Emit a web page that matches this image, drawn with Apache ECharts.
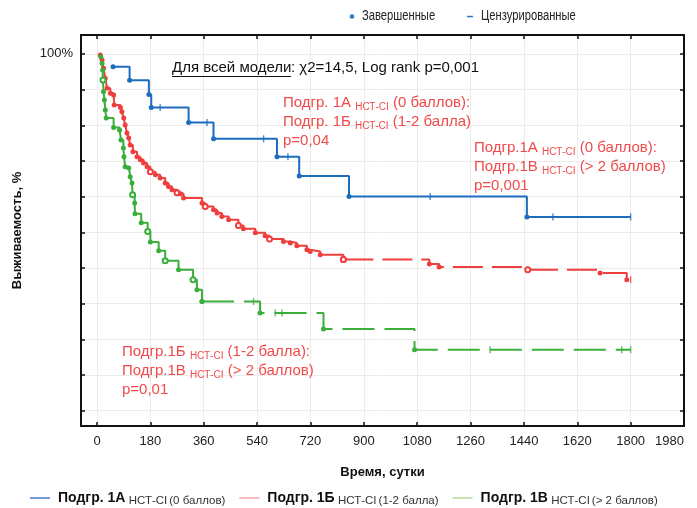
<!DOCTYPE html>
<html><head><meta charset="utf-8">
<script src="https://cdn.jsdelivr.net/npm/echarts@6/dist/echarts.min.js"></script>
<style>html,body{margin:0;padding:0;background:#fff}#c{width:697px;height:508px}</style>
</head><body><div id="c"></div>
<script>
// ---------- data ----------
const groupNames = ['Подгр. 1А', 'Подгр. 1Б', 'Подгр. 1В'];
const markerLegend = ['Завершенные', 'Цензурированные'];
const xTicks = [0, 180, 360, 540, 720, 900, 1080, 1260, 1440, 1620, 1800, 1980];
const yTicks = [0, 10, 20, 30, 40, 50, 60, 70, 80, 90, 100];
const yLabelTicks = [100];
const followUpEnd = 1800;

// Group 1A (blue): event times (days) and survival after event (%)
const blueT = [54, 110, 175, 183, 309, 393, 607, 682, 850, 1450];
const blueS = [96.4, 92.6, 88.6, 85.0, 80.8, 76.2, 71.2, 65.8, 60.0, 54.3];
const blueHollowT = [];
const blueCensT = [213, 371, 562, 644, 1124, 1538, 1800];

// Group 1B (red)
const redT = [11, 17, 22, 28, 34, 45, 56, 58, 79, 84, 90, 95, 101, 107, 112, 121, 135, 146, 157, 169, 180, 197, 213, 230, 241, 253, 270, 281, 292, 354, 365, 393, 405, 421, 444, 477, 494, 534, 567, 582, 629, 652, 674, 708, 719, 753, 831, 1121, 1154, 1453, 1697, 1787];
const redS = [99.7, 98.3, 96.0, 93.2, 90.4, 89.0, 88.5, 85.7, 85.0, 83.8, 82.0, 80.1, 77.8, 76.4, 74.5, 72.6, 71.2, 70.3, 69.4, 68.4, 67.0, 66.1, 65.2, 63.8, 62.8, 61.9, 61.1, 60.8, 59.6, 58.2, 57.2, 56.3, 55.4, 54.4, 53.5, 51.9, 51.0, 49.9, 49.0, 48.1, 47.4, 47.0, 46.2, 45.1, 44.6, 43.7, 42.4, 41.1, 40.3, 39.5, 38.6, 36.7];
const redHollowT = [180, 270, 365, 477, 582, 831, 1453];
const redCensT = [1800];
const redDashFromT = 831;

// Group 1V (green)
const greenT = [13, 17, 19, 20, 22, 25, 28, 31, 56, 76, 81, 89, 91, 95, 107, 112, 118, 120, 127, 128, 149, 171, 180, 208, 230, 275, 324, 337, 354, 550, 764, 1071];
const greenS = [99.2, 97.4, 95.5, 92.7, 89.4, 87.1, 84.3, 82.0, 79.4, 78.7, 75.9, 73.6, 71.2, 68.4, 68.0, 65.6, 63.8, 60.5, 58.2, 55.2, 52.7, 50.2, 47.3, 44.8, 42.0, 39.5, 36.7, 33.9, 30.6, 27.4, 22.9, 17.1];
const greenHollowT = [20, 120, 171, 230, 324];
const greenCensT = [528, 601, 624, 1326, 1770, 1800];
const greenDashFromT = 354;

// ---------- helpers ----------
const COL = { blue: '#1c6cbf', red: '#ef3e3e', green: '#3aae3a' };
const LEG = { blue: '#6f9bd6', red: '#f6bcc4', green: '#c9e3b4' };
const TXT_RED = '#f04a4a';
const FONT = '"Liberation Sans", Arial, sans-serif';

function survAt(T, S, t) { let s = 100; for (let i = 0; i < T.length; i++) { if (T[i] <= t) s = S[i]; } return s; }
function makeLine(T, S, hollow, i0, i1, endT) {
  const d = [];
  for (let i = i0; i <= i1; i++) {
    d.push({ value: [T[i], S[i]], symbol: hollow.indexOf(T[i]) >= 0 ? 'emptyCircle' : 'circle' });
  }
  if (endT != null) d.push({ value: [endT, S[i1]], symbol: 'none' });
  return d;
}
function cens(T, S, CT) { return CT.map(t => [t, survAt(T, S, t)]); }

function lineSeries(name, color, data, dash) {
  return {
    type: 'line', name: name, step: 'end', data: data,
    symbolSize: 5, showSymbol: true, showAllSymbol: true,
    lineStyle: { color: color, width: 2, type: dash || 'solid' },
    itemStyle: { color: color, borderWidth: 1.2 },
    emphasis: { disabled: true }, z: 3, clip: false
  };
}
function censSeries(name, color, data) {
  return {
    type: 'scatter', name: name, data: data, symbol: 'rect', symbolSize: [1.4, 7],
    itemStyle: { color: color }, emphasis: { disabled: true }, z: 4
  };
}

const rI = redT.indexOf(redDashFromT);
const gI = greenT.indexOf(greenDashFromT);

const series = [
  lineSeries(groupNames[0], COL.blue, makeLine(blueT, blueS, blueHollowT, 0, blueT.length - 1, followUpEnd)),
  censSeries(groupNames[0], COL.blue, cens(blueT, blueS, blueCensT)),
  lineSeries(groupNames[1], COL.red, makeLine(redT, redS, redHollowT, 0, rI, null)),
  lineSeries(groupNames[1], COL.red, makeLine(redT, redS, redHollowT, rI, redT.length - 1, followUpEnd), [30, 9]),
  censSeries(groupNames[1], COL.red, cens(redT, redS, redCensT)),
  lineSeries(groupNames[2], COL.green, makeLine(greenT, greenS, greenHollowT, 0, gI, null)),
  lineSeries(groupNames[2], COL.green, makeLine(greenT, greenS, greenHollowT, gI, greenT.length - 1, followUpEnd), [32, 10]),
  censSeries(groupNames[2], COL.green, cens(greenT, greenS, greenCensT))
];

const subRich = {
  b: { fontFamily: FONT, fontSize: 14, fontWeight: 'bold', color: '#111', lineHeight: 18, padding: [0, 0, 0, 3] },
  s: { fontFamily: FONT, fontSize: 11.5, color: '#333', verticalAlign: 'bottom', lineHeight: 11, padding: [0, 2, 0, 0] },
  t: { fontFamily: FONT, fontSize: 11.5, color: '#333', verticalAlign: 'bottom', lineHeight: 15 }
};
const legendSub = ['(0 баллов)', '(1-2 балла)', '(> 2 баллов)'];

function annRich(color) {
  return {
    a: { fontFamily: FONT, fontSize: 15, fill: color, color: color, lineHeight: 19 },
    s: { fontFamily: FONT, fontSize: 10, fill: color, color: color, verticalAlign: 'bottom', lineHeight: 16 }
  };
}
function annText(x, y, lines) {
  return {
    type: 'text', left: x, top: y, z: 10,
    style: { text: lines.join('\n'), rich: annRich(TXT_RED), fill: TXT_RED, font: '15px ' + FONT }
  };
}

const mctx = document.createElement('canvas').getContext('2d');
mctx.font = '15px ' + FONT;
const ulText = 'Для всей модели';
const ulW = Math.round(mctx.measureText(ulText).width);
const titleX = 172;

const option = {
  animation: false,
  backgroundColor: '#fff',
  grid: { left: 81, right: 13, top: 35, bottom: 82, containLabel: false },
  xAxis: [
    {
      type: 'value', min: -54, max: 1980, position: 'bottom',
      name: 'Время, сутки', nameLocation: 'middle', nameGap: 40,
      nameTextStyle: { fontFamily: FONT, fontSize: 13, fontWeight: 'bold', color: '#111' },
      axisLine: { show: true, onZero: false, lineStyle: { color: '#111', width: 2 } },
      axisTick: { show: true, inside: true, length: 4, customValues: xTicks, lineStyle: { color: '#111', width: 1.5 } },
      axisLabel: { show: true, customValues: xTicks, margin: 9, formatter: v => String(v), fontFamily: FONT, fontSize: 13, color: '#222', showMaxLabel: true, alignMaxLabel: 'right' },
      splitLine: { show: true, lineStyle: { color: '#ececec', width: 1 } }
    },
    {
      type: 'value', min: -54, max: 1980, position: 'top',
      axisLine: { show: true, onZero: false, lineStyle: { color: '#111', width: 2 } },
      axisTick: { show: true, inside: true, length: 4, customValues: xTicks, lineStyle: { color: '#111', width: 1.5 } },
      axisLabel: { show: false }, splitLine: { show: false }
    }
  ],
  yAxis: [
    {
      type: 'value', min: -4.3, max: 105.3, position: 'left',
      name: 'Выживаемость, %', nameLocation: 'middle', nameGap: 57, nameRotate: 90,
      nameTextStyle: { fontFamily: FONT, fontSize: 13, fontWeight: 'bold', color: '#111' },
      axisLine: { show: true, onZero: false, lineStyle: { color: '#111', width: 2 } },
      axisTick: { show: true, inside: true, length: 4, customValues: yTicks, lineStyle: { color: '#111', width: 1.5 } },
      axisLabel: { show: true, customValues: yLabelTicks, margin: 8, formatter: v => v + '%', fontFamily: FONT, fontSize: 13, color: '#222' },
      splitLine: { show: true, lineStyle: { color: '#ececec', width: 1 } }
    },
    {
      type: 'value', min: -4.3, max: 105.3, position: 'right',
      axisLine: { show: true, onZero: false, lineStyle: { color: '#111', width: 2 } },
      axisTick: { show: true, inside: true, length: 4, customValues: yTicks, lineStyle: { color: '#111', width: 1.5 } },
      axisLabel: { show: false }, splitLine: { show: false }
    }
  ],
  legend: [
    {
      data: [
        { name: groupNames[0], itemStyle: { color: LEG.blue } },
        { name: groupNames[1], itemStyle: { color: LEG.red } },
        { name: groupNames[2], itemStyle: { color: LEG.green } }
      ],
      left: 25, top: 486, icon: 'rect', itemWidth: 20, itemHeight: 2, itemGap: 14, selectedMode: false,
      formatter: function (n) { const i = groupNames.indexOf(n); return '{b|' + n + '} {s|НСТ-CI}{t|' + legendSub[i] + '}'; },
      textStyle: { rich: subRich }
    }
  ],
  graphic: [
    // marker legend (top)
    { type: 'circle', z: 10, shape: { cx: 352, cy: 16.5, r: 2.3 }, style: { fill: '#2a78cc' } },
    { type: 'text', z: 10, x: 362, y: 16.5, scaleX: 0.8, style: { text: markerLegend[0], font: '14px ' + FONT, fill: '#222', verticalAlign: 'middle' } },
    { type: 'rect', z: 10, shape: { x: 467, y: 15.8, width: 6, height: 1.5 }, style: { fill: '#2a78cc' } },
    { type: 'text', z: 10, x: 481, y: 16.5, scaleX: 0.8, style: { text: markerLegend[1], font: '14px ' + FONT, fill: '#222', verticalAlign: 'middle' } },
    // model test
    {
      type: 'text', left: titleX, top: 60, z: 10,
      style: { text: ulText, font: '15px ' + FONT, fill: '#111' }
    },
    {
      type: 'line', z: 10, shape: { x1: titleX, y1: 76.5, x2: titleX + ulW, y2: 76.5 }, style: { stroke: '#111', lineWidth: 1 }
    },
    {
      type: 'text', left: titleX + ulW, top: 60, z: 10,
      style: { text: ': χ2=14,5, Log rank p=0,001', font: '15px ' + FONT, fill: '#111' }
    },
    annText(283, 95, ['{a|Подгр. 1А }{s|НСТ-CI}{a| (0 баллов):}', '{a|Подгр. 1Б }{s|НСТ-CI}{a| (1-2 балла)}', '{a|p=0,04}']),
    annText(474, 140, ['{a|Подгр.1А }{s|НСТ-CI}{a| (0 баллов):}', '{a|Подгр.1В }{s|НСТ-CI}{a| (> 2 баллов)}', '{a|p=0,001}']),
    annText(122, 344, ['{a|Подгр.1Б }{s|НСТ-CI}{a| (1-2 балла):}', '{a|Подгр.1В }{s|НСТ-CI}{a| (> 2 баллов)}', '{a|p=0,01}'])
  ],
  series: series
};

const chart = echarts.init(document.getElementById('c'), null, { renderer: 'canvas' });
chart.setOption(option);
</script>
</body></html>
